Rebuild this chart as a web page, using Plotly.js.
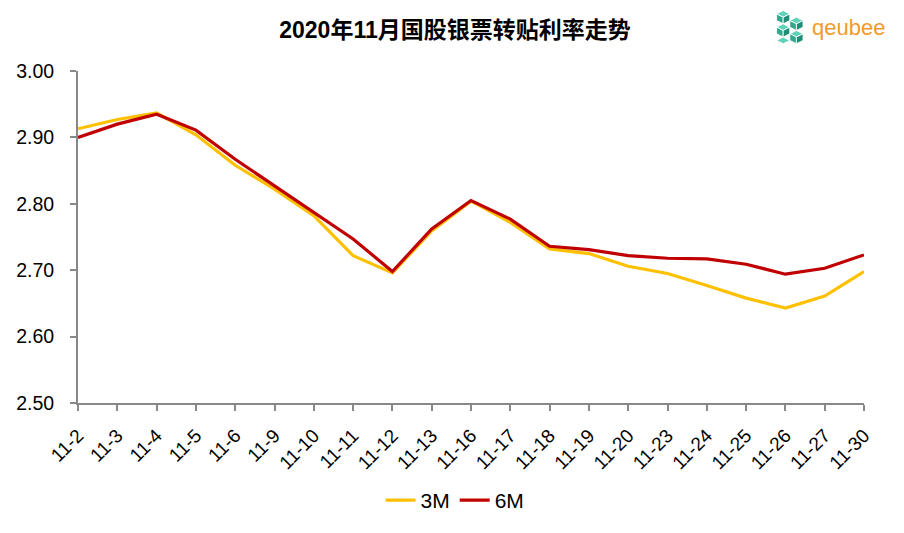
<!DOCTYPE html>
<html><head><meta charset="utf-8">
<script src="https://cdn.plot.ly/plotly-3.0.1.min.js"></script>
<style>body{margin:0;background:#fff}#c{width:904px;height:533px}</style>
</head><body><div id="c"></div>
<script>
const dates = ['11-2','11-3','11-4','11-5','11-6','11-9','11-10','11-11','11-12','11-13','11-16','11-17','11-18','11-19','11-20','11-23','11-24','11-25','11-26','11-27','11-30'];
const rate3M = [2.913,2.927,2.937,2.904,2.858,2.822,2.782,2.722,2.696,2.759,2.804,2.772,2.732,2.725,2.706,2.695,2.677,2.658,2.643,2.661,2.698];
const rate6M = [2.900,2.920,2.935,2.911,2.867,2.827,2.787,2.747,2.698,2.762,2.805,2.777,2.736,2.731,2.722,2.718,2.717,2.709,2.694,2.703,2.723];
const titleText = '2020年11月国股银票转贴利率走势';
const logoText = 'qeubee';

const logoSvg = '<svg xmlns="http://www.w3.org/2000/svg" width="36" height="36" viewBox="0 0 36 36">' +
 '<g stroke="#fff" stroke-width="0.8">' +
 '<polygon points="10,2 16,5 10,8 4,5" fill="#5fd3b8"/><polygon points="4,5 10,8 10,14 4,11" fill="#2fa88c"/><polygon points="10,8 16,5 16,11 10,14" fill="#1f8d74"/>' +
 '<polygon points="22,8 28,11 22,14 16,11" fill="#5fd3b8"/><polygon points="16,11 22,14 22,20 16,17" fill="#2fa88c"/><polygon points="22,14 28,11 28,17 22,20" fill="#1f8d74"/>' +
 '<polygon points="10,14 16,17 10,20 4,17" fill="#5fd3b8"/><polygon points="4,17 10,20 10,26 4,23" fill="#2fa88c"/><polygon points="10,20 16,17 16,23 10,26" fill="#1f8d74"/>' +
 '<polygon points="16,23 22,20 28,23 22,26" fill="#5fd3b8"/><polygon points="16,23 22,26 22,32 16,29" fill="#2fa88c"/><polygon points="22,26 28,23 28,29 22,32" fill="#1f8d74"/>' +
 '<polygon points="10,26 16,29 10,32 4,29" fill="#5fd3b8"/>' +
 '</g></svg>';

const traces = [
  {x: dates, y: rate3M, name: '3M', type: 'scatter', mode: 'lines', line: {color: '#FFC000', width: 3.2}},
  {x: dates, y: rate6M, name: '6M', type: 'scatter', mode: 'lines', line: {color: '#C00000', width: 3.2}}
];
const layout = {
  width: 904, height: 533,
  margin: {l: 78, r: 40, t: 71, b: 128},
  paper_bgcolor: '#fff', plot_bgcolor: '#fff',
  font: {family: 'Liberation Sans, Arial, sans-serif', color: '#000'},
  title: {text: '<b>' + titleText + '</b>', x: 455 / 904, xanchor: 'center', y: 1 - 30 / 533, yanchor: 'middle',
          font: {family: 'Liberation Sans, Noto Sans CJK SC, sans-serif', size: 23, color: '#000'}},
  xaxis: {type: 'category', range: [0, 20], showline: true, linecolor: '#888', linewidth: 2,
          ticks: 'outside', ticklen: 6, tickcolor: '#888', tickwidth: 2, tickangle: -45,
          ticklabelstandoff: 6,
          tickfont: {size: 19, color: '#000'}, showgrid: false, zeroline: false, fixedrange: true},
  yaxis: {range: [2.5, 3.0], dtick: 0.1, tickformat: '.2f', showline: true, linecolor: '#888', linewidth: 2,
          ticks: 'outside', ticklen: 6, tickcolor: '#888', tickwidth: 2, ticklabelstandoff: 12,
          tickfont: {size: 19.5, color: '#000'}, showgrid: false, zeroline: false},
  showlegend: true,
  legend: {orientation: 'h', x: (455 - 78) / 786, xanchor: 'center', y: (405 - 503) / 334, yanchor: 'middle',
           font: {size: 21, color: '#000'}, traceorder: 'normal'},
  images: [{source: 'data:image/svg+xml;utf8,' + encodeURIComponent(logoSvg), xref: 'paper', yref: 'paper',
            x: (772 - 78) / 786, y: (405 - 8) / 334, sizex: 40 / 786, sizey: 40 / 334, xanchor: 'left', yanchor: 'top', sizing: 'contain'}],
  annotations: [{text: logoText, xref: 'paper', yref: 'paper', x: (810 - 78) / 786, y: (405 - 27) / 334,
                 xanchor: 'left', yanchor: 'middle', showarrow: false,
                 font: {family: 'Liberation Sans, Arial, sans-serif', size: 22, color: '#F39A2B'}}]
};
Plotly.newPlot('c', traces, layout, {displayModeBar: false, staticPlot: true});
</script></body></html>
